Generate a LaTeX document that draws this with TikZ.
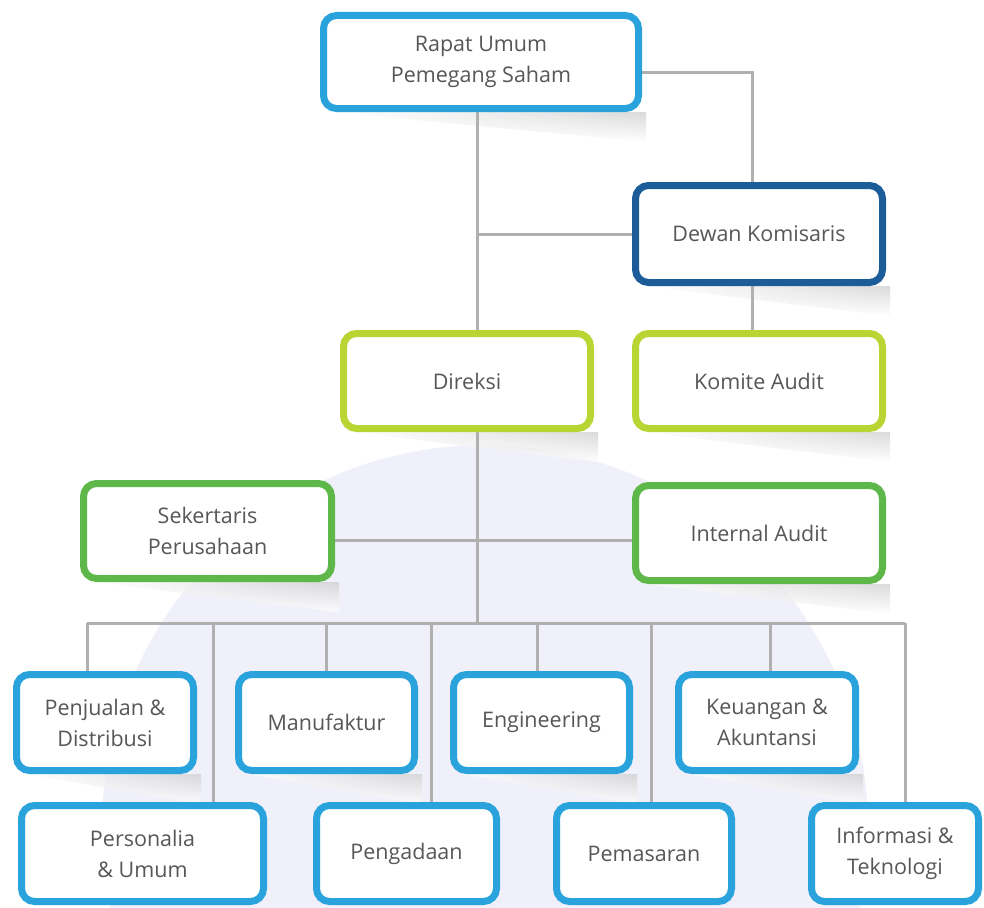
\documentclass[tikz,border=0pt]{standalone}
\usepackage{fontspec}
\setmainfont{Open Sans}
\usetikzlibrary{backgrounds,shadings}
\definecolor{lblue}{HTML}{2AA2DC}
\definecolor{dblue}{HTML}{1C5C98}
\definecolor{ygreen}{HTML}{B8D534}
\definecolor{mgreen}{HTML}{5EB849}
\definecolor{txt}{HTML}{575757}
\definecolor{conn}{HTML}{B0B0B0}
\definecolor{wm}{HTML}{F0F0FA}
\tikzset{
  orgbox/.style={draw, fill=white, rounded corners=13pt, line width=7pt,
    text=txt, align=center, inner sep=0pt,
    font=\fontsize{21.5}{31}\selectfont},
  cline/.style={draw=conn, line width=3pt},
}
\begin{document}
\begin{tikzpicture}[x=1pt,y=-1pt]
\useasboundingbox (0,0) rectangle (984,907);
% nodes
\node[orgbox, draw=lblue, minimum width=315, minimum height=93] (rups) at (481,62) {Rapat Umum\\Pemegang Saham};
\node[orgbox, draw=dblue, minimum width=247, minimum height=97] (dewan) at (759,234) {Dewan Komisaris};
\node[orgbox, draw=ygreen, minimum width=247, minimum height=95] (direksi) at (467,381) {Direksi};
\node[orgbox, draw=ygreen, minimum width=247, minimum height=95] (komite) at (759,381) {Komite Audit};
\node[orgbox, draw=mgreen, minimum width=248, minimum height=95] (sekertaris) at (207.5,531) {Sekertaris\\Perusahaan};
\node[orgbox, draw=mgreen, minimum width=247, minimum height=95] (internal) at (759,533) {Internal Audit};
\node[orgbox, draw=lblue, minimum width=177, minimum height=96] (penjualan) at (105,722.5) {Penjualan \&\\Distribusi};
\node[orgbox, draw=lblue, minimum width=176, minimum height=96] (manufaktur) at (326.5,722.5) {Manufaktur};
\node[orgbox, draw=lblue, minimum width=176, minimum height=96] (engineering) at (541.5,722.5) {Engineering};
\node[orgbox, draw=lblue, minimum width=177, minimum height=96] (keuangan) at (767,722.5) {Keuangan \&\\Akuntansi};
\node[orgbox, draw=lblue, minimum width=242, minimum height=96] (personalia) at (142.5,853.5) {Personalia\\\& Umum};
\node[orgbox, draw=lblue, minimum width=180, minimum height=96] (pengadaan) at (406.5,853.5) {Pengadaan};
\node[orgbox, draw=lblue, minimum width=175, minimum height=96] (pemasaran) at (644,853.5) {Pemasaran};
\node[orgbox, draw=lblue, minimum width=167, minimum height=96] (informasi) at (895,853.5) {Informasi \&\\Teknologi};
% junction coordinates
\coordinate (sp) at (477,0);
\coordinate (dk) at (752,0);
\coordinate (hl) at (0,540);
\coordinate (bus) at (0,623);
\coordinate (busL) at (87,623);
\coordinate (busR) at (905,623);
\coordinate (d1) at (87,0);
\coordinate (d2) at (213,0);
\coordinate (d3) at (326,0);
\coordinate (d4) at (431,0);
\coordinate (d5) at (537,0);
\coordinate (d6) at (651,0);
\coordinate (d7) at (770,0);
\coordinate (d8) at (905,0);
\begin{pgfonlayer}{background}
  % watermark tint
  \fill[wm] (485,828) circle[radius=383];
  % shadows
  \foreach \n in {rups,dewan,direksi,komite,sekertaris,internal,penjualan,manufaktur,engineering,keuangan}{
    \shade[upper left=white, upper right=black!18, lower left=white, lower right=white, opacity=0.8]
      ([xshift=12pt]\n.south west) -- ([xshift=4pt]\n.south east) -- ([xshift=4pt,yshift=-30pt]\n.south east) -- cycle;
  }
  % connectors
  \draw[cline] (rups.south -| sp) -- (direksi.north -| sp);
  \draw[cline] (sp |- dewan.west) -- (dewan.west);
  \draw[cline] ([yshift=-10pt]rups.east) -| (dewan.north -| dk);
  \draw[cline] (dewan.south -| dk) -- (komite.north -| dk);
  \draw[cline] (direksi.south -| sp) -- (sp |- bus);
  \draw[cline] (sekertaris.east |- hl) -- (internal.west |- hl);
  \draw[cline] (busL) -- (busR);
  \draw[cline] (d1 |- bus) -- (d1 |- penjualan.north);
  \draw[cline] (d2 |- bus) -- (d2 |- personalia.north);
  \draw[cline] (d3 |- bus) -- (d3 |- manufaktur.north);
  \draw[cline] (d4 |- bus) -- (d4 |- pengadaan.north);
  \draw[cline] (d5 |- bus) -- (d5 |- engineering.north);
  \draw[cline] (d6 |- bus) -- (d6 |- pemasaran.north);
  \draw[cline] (d7 |- bus) -- (d7 |- keuangan.north);
  \draw[cline] (d8 |- bus) -- (d8 |- informasi.north);
\end{pgfonlayer}
\end{tikzpicture}
\end{document}
